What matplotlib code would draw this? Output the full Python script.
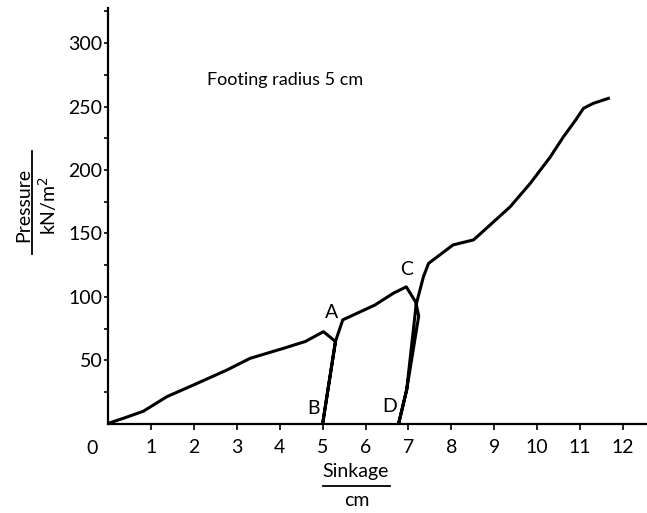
import numpy as np
import matplotlib
matplotlib.use("Agg")
from matplotlib import pyplot as plt

# Pressure-sinkage curve with two unload/reload cycles
sinkage = [0.05, 0.4, 0.82, 1.37, 1.99, 2.77, 3.31, 4.09, 4.6, 5.02, 5.3,
           5.0,                                  # unload to B
           5.3, 5.47, 6.22, 6.65, 6.95, 7.17, 7.24,
           6.96, 6.77,                           # unload to D
           6.96, 7.18, 7.35, 7.47, 8.04, 8.52, 9.37, 9.84, 10.3, 10.61,
           10.89, 11.08, 11.31, 11.66]
pressure = [1, 5, 10, 21.5, 30.7, 42.5, 51.7, 59.6, 65, 72.7, 65,
            0,
            65, 82, 93.7, 103, 108, 96, 85,
            27, 0,
            27, 94, 116, 126.5, 141, 145, 171, 189.5, 210, 226,
            239, 248.6, 252.5, 256.4]

x_ticks = list(range(1, 13))
y_major = [50, 100, 150, 200, 250, 300]
y_minor = [25, 75, 125, 175, 225, 275, 325]

point_labels = ["A", "B", "C", "D"]
label_x = [5.22, 4.79, 6.95, 6.57]
label_y = [88, 12, 122, 14]

plt.rcParams["font.family"] = ["Lato", "DejaVu Sans"]

fig = plt.figure(figsize=(6.47, 5.13), dpi=100)
ax = fig.add_axes([0.167, 0.1735, 0.833, 0.811])

ax.plot(sinkage, pressure, color="black", linewidth=2.2, solid_joinstyle="round")

ax.set_xlim(0, 12.56)
ax.set_ylim(0, 327.6)
for side in ("top", "right"):
    ax.spines[side].set_visible(False)
for side in ("left", "bottom"):
    ax.spines[side].set_linewidth(1.6)

ax.set_xticks(x_ticks)
ax.set_xticklabels([str(v) for v in x_ticks])
ax.set_yticks(y_major)
ax.set_yticklabels([str(v) for v in y_major])
ax.set_yticks(y_minor, minor=True)
ax.tick_params(axis="x", direction="out", length=4, width=1.2, labelsize=14, pad=7)
ax.tick_params(axis="y", which="major", direction="out", length=3, width=1.2, labelsize=14, pad=1)
ax.tick_params(axis="y", which="minor", direction="out", length=3, width=1.2)

# Origin label sits below-left of the corner
ax.text(-0.38, -19, "0", fontsize=14, ha="center", va="center")

for lab, lx, ly in zip(point_labels, label_x, label_y):
    ax.text(lx, ly, lab, fontsize=14, ha="center", va="center")

ax.text(4.13, 271, "Footing radius 5 cm", fontsize=13, ha="center", va="center")

# Axis labels written as fractions
fig.text(0.549, 0.080, "Sinkage", fontsize=14, ha="center", va="center")
fig.add_artist(plt.Line2D([0.499, 0.603], [0.053, 0.053], color="black", linewidth=1.3))
fig.text(0.551, 0.025, "cm", fontsize=14, ha="center", va="center")

fig.text(0.037, 0.60, "Pressure", fontsize=14, rotation=90, ha="center", va="center")
fig.add_artist(plt.Line2D([0.0495, 0.0495], [0.505, 0.705], color="black", linewidth=1.3))
fig.text(0.073, 0.60, "kN/m$^2$", fontsize=14, rotation=90, ha="center", va="center")

fig.savefig("out.png", dpi=100)
